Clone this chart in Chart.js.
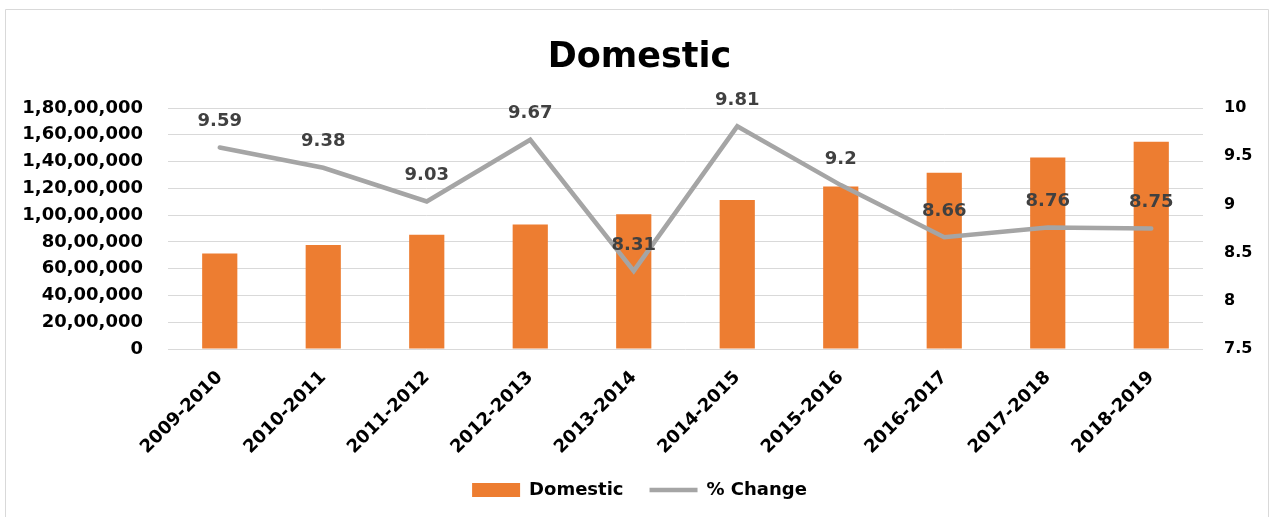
<!DOCTYPE html>
<html>
<head>
<meta charset="utf-8">
<script src="https://cdn.jsdelivr.net/npm/chart.js@4"></script>
<style>
  html, body { margin: 0; padding: 0; background: #fff; }
  #wrap { position: relative; width: 1271px; height: 517px; }
</style>
</head>
<body>
<div id="wrap"><canvas id="c" width="1271" height="517"></canvas></div>
<script>
const categories = ['2009-2010','2010-2011','2011-2012','2012-2013','2013-2014','2014-2015','2015-2016','2016-2017','2017-2018','2018-2019'];
const domestic = [7140000, 7760000, 8530000, 9300000, 10070000, 11120000, 12130000, 13160000, 14300000, 15470000];
const pctChange = [9.59, 9.38, 9.03, 9.67, 8.31, 9.81, 9.2, 8.66, 8.76, 8.75];
const leftTicks = [0, 2000000, 4000000, 6000000, 8000000, 10000000, 12000000, 14000000, 16000000, 18000000];
const rightTicks = [7.5, 8, 8.5, 9, 9.5, 10];

const FONT = "'DejaVu Sans', sans-serif";

function indianFormat(n) {
  let s = String(Math.round(n));
  if (s.length <= 3) return s;
  const last3 = s.slice(-3);
  let rest = s.slice(0, -3);
  const parts = [];
  while (rest.length > 2) { parts.unshift(rest.slice(-2)); rest = rest.slice(0, -2); }
  if (rest.length) parts.unshift(rest);
  return parts.join(',') + ',' + last3;
}

const framePlugin = {
  id: 'frame',
  beforeDraw(chart) {
    const ctx = chart.ctx;
    ctx.save();
    ctx.fillStyle = '#fff';
    ctx.fillRect(0, 0, chart.width, chart.height);
    ctx.strokeStyle = '#d9d9d9';
    ctx.lineWidth = 1;
    ctx.beginPath();
    ctx.moveTo(5.5, 530); ctx.lineTo(5.5, 9.5); ctx.lineTo(1268.5, 9.5); ctx.lineTo(1268.5, 530);
    ctx.stroke();
    ctx.restore();
  }
};

const labelPlugin = {
  id: 'lineLabels',
  afterDatasetsDraw(chart) {
    const idx = chart.data.datasets.findIndex(d => d.type === 'line');
    const meta = chart.getDatasetMeta(idx);
    const ctx = chart.ctx;
    ctx.save();
    ctx.font = "bold 18px " + FONT;
    ctx.fillStyle = '#404040';
    ctx.textAlign = 'center';
    ctx.textBaseline = 'middle';
    meta.data.forEach((pt, i) => {
      ctx.fillText(String(pctChange[i]), pt.x, pt.y - 26);
    });
    ctx.restore();
  }
};

new Chart(document.getElementById('c'), {
  data: {
    labels: categories,
    datasets: [
      {
        type: 'bar',
        label: 'Domestic',
        data: domestic,
        backgroundColor: '#ed7d31',
        borderWidth: 0,
        yAxisID: 'y',
        barPercentage: 0.34,
        categoryPercentage: 1.0,
        order: 2,
        pointStyle: 'rect'
      },
      {
        type: 'line',
        label: '% Change',
        data: pctChange,
        borderColor: '#a5a5a5',
        backgroundColor: '#a5a5a5',
        borderWidth: 4.5,
        pointRadius: 0,
        pointHoverRadius: 0,
        pointStyle: 'line',
        tension: 0,
        yAxisID: 'y1',
        order: 1,
        borderCapStyle: 'round',
        borderJoinStyle: 'miter'
      }
    ]
  },
  options: {
    responsive: false,
    animation: false,
    events: [],
    layout: { padding: { top: 0, bottom: 8, left: 8, right: 0 } },
    plugins: {
      title: {
        display: true,
        text: 'Domestic',
        color: '#000',
        font: { family: FONT, size: 35, weight: 'bold' },
        padding: { top: 37, bottom: 29 }
      },
      legend: {
        display: true,
        position: 'bottom',
        labels: {
          usePointStyle: true,
          pointStyleWidth: 48,
          boxHeight: 14,
          color: '#000',
          font: { family: FONT, size: 18, weight: 'bold' },
          padding: 26,
          sort: (a, b) => a.datasetIndex - b.datasetIndex
        }
      },
      tooltip: { enabled: false }
    },
    scales: {
      x: {
        grid: { display: false, drawTicks: false },
        border: { display: false },
        ticks: {
          color: '#000',
          font: { family: FONT, size: 18, weight: 'bold' },
          maxRotation: 45,
          minRotation: 45,
          padding: 18,
          autoSkip: false
        },
        afterFit(scale) { scale.height = 106; }
      },
      y: {
        position: 'left',
        min: 0,
        max: 18000000,
        afterBuildTicks(scale) { scale.ticks = leftTicks.map(v => ({ value: v })); },
        grid: { color: '#d9d9d9', lineWidth: 1, drawTicks: false },
        border: { display: false },
        ticks: {
          color: '#000',
          font: { family: FONT, size: 18, weight: 'bold' },
          padding: 25,
          callback: v => indianFormat(v)
        },
        afterFit(scale) { scale.width = 160; }
      },
      y1: {
        position: 'right',
        min: 7.5,
        max: 10,
        afterBuildTicks(scale) { scale.ticks = rightTicks.map(v => ({ value: v })); },
        grid: { display: false, drawTicks: false },
        border: { display: false },
        ticks: {
          color: '#000',
          font: { family: FONT, size: 16, weight: 'bold' },
          padding: 21,
          callback: v => String(v)
        },
        afterFit(scale) { scale.width = 68; }
      }
    }
  },
  plugins: [framePlugin, labelPlugin]
});
</script>
</body>
</html>
